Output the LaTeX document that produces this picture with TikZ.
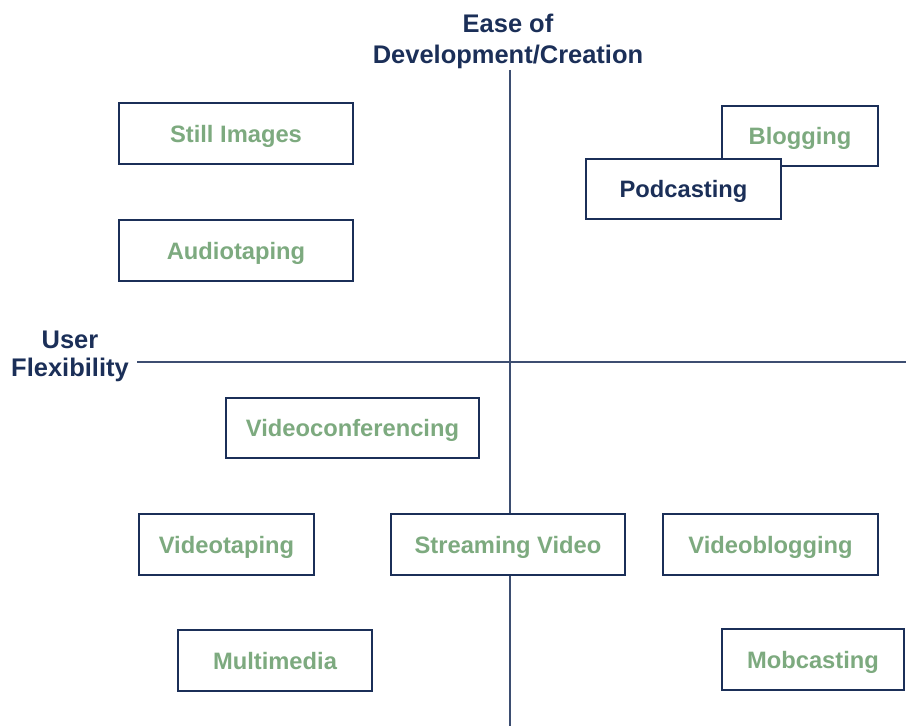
\documentclass[tikz,border=0pt]{standalone}
\usepackage{fontspec}
\setmainfont{Liberation Sans}
\definecolor{navy}{HTML}{1B2F58}
\definecolor{sage}{HTML}{7DAA7F}
\begin{document}
\begin{tikzpicture}[x=0.02cm,y=-0.02cm,
  box/.style={draw=navy,line width=1.3pt,fill=white,inner sep=0pt,outer sep=0pt,
    font=\fontsize{13.5}{16}\selectfont\bfseries,text=sage,minimum height=1.21cm,
    text height=1.0em,text depth=0pt},
  axis/.style={draw=navy!85,line width=1pt},
  axlabel/.style={text=navy,align=center,inner sep=0pt}]
\useasboundingbox (0,0) rectangle (906,726);
\coordinate (vtop) at (510,70);
\coordinate (vbot) at (510,726);
\coordinate (hleft) at (137,362);
\coordinate (hright) at (906,362);
\draw[axis] (vtop) -- (vbot);
\draw[axis] (hleft) -- (hright);
\node[axlabel,font=\fontsize{14.5}{17.6}\selectfont\bfseries] (ease) at (508,41) {Ease of\\Development/Creation};
\node[axlabel,font=\fontsize{14.5}{15.9}\selectfont\bfseries] (user) at (70,356) {User\\Flexibility};
\node[box,minimum width=4.68cm] (still) at (236,133.5) {Still Images};
\node[box,minimum width=4.68cm] (audio) at (236,250.5) {Audiotaping};
\node[box,minimum width=3.12cm] (blog) at (800,136) {Blogging};
\node[box,minimum width=3.9cm,text=navy] (pod) at (683.5,189) {Podcasting};
\node[box,minimum width=5.06cm] (vconf) at (352.5,428) {Videoconferencing};
\node[box,minimum width=3.5cm] (vtape) at (226.5,544.5) {Videotaping};
\node[box,minimum width=4.68cm] (stream) at (508,544.5) {Streaming Video};
\node[box,minimum width=4.3cm] (vblog) at (770.5,544.5) {Videoblogging};
\node[box,minimum width=3.88cm] (multi) at (275,660.5) {Multimedia};
\node[box,minimum width=3.64cm] (mob) at (813,659.5) {Mobcasting};
\end{tikzpicture}
\end{document}
